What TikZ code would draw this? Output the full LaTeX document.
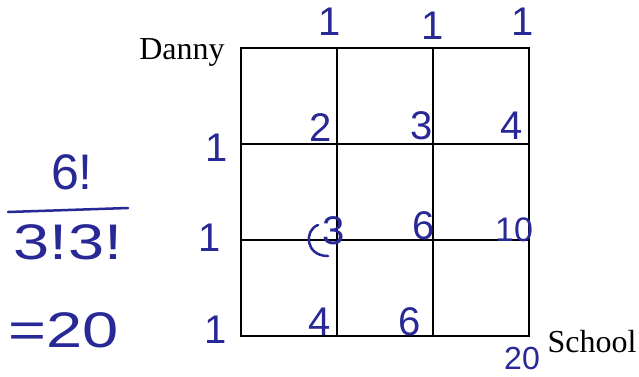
\documentclass[tikz,border=0pt]{standalone}
\usepackage{fontspec}
\setmainfont{Liberation Serif}
\newfontfamily\handfont{Liberation Sans}
\definecolor{ink}{RGB}{40,40,150}
\begin{document}
\begin{tikzpicture}[x=1pt,y=-1pt,
  hand/.style={text=ink,font=\handfont\fontsize{40}{40}\selectfont,inner sep=0pt},
  bighand/.style={text=ink,font=\handfont\fontsize{50}{50}\selectfont,inner sep=0pt},
  lbl/.style={font=\fontsize{32}{32}\selectfont,inner sep=0pt},
  gridline/.style={line width=2pt,black},
  inkline/.style={ink,line width=2.5pt,line cap=round}]
\useasboundingbox (0,0) rectangle (639,376);
% grid
\coordinate (g00) at (241,48);
\coordinate (g33) at (529,336);
\draw[gridline] (g00) rectangle (g33);
\foreach \x in {337,433} \draw[gridline] (\x,48) -- (\x,336);
\foreach \y in {144,240} \draw[gridline] (241,\y) -- (529,\y);
% labels
\node[lbl] (danny) at (182,52) {Danny};
\node[lbl] (school) at (592,342) {School};
% top ones
\node[hand] (t1) at (330,22) {1};
\node[hand] (t2) at (433,26) {1};
\node[hand] (t3) at (523,22) {1};
% left ones
\node[hand] (l1) at (217,148) {1};
\node[hand] (l2) at (210,238) {1};
\node[hand] (l3) at (216,330) {1};
% grid numbers
\node[hand] (n2) at (321,128) {2};
\node[hand] (n3) at (422,126) {3};
\node[hand] (n4) at (512,126) {4};
\node[hand] (m3) at (334,231) {3};
\draw[inkline] (318,225) .. controls (304,230) and (305,256) .. (328,256);
\node[hand] (m6) at (424,226) {6};
\node[hand,font=\handfont\fontsize{34}{34}\selectfont] (m10) at (514,230) {10};
\node[hand] (b4) at (320,322) {4};
\node[hand] (b6) at (410,322) {6};
\node[hand,font=\handfont\fontsize{32}{32}\selectfont] (n20) at (522,358) {20};
% fraction
\node[bighand] (f6) at (72,172) {6!};
\coordinate (fa) at (8,212);
\coordinate (fb) at (128,208);
\draw[inkline] (fa) -- (fb);
\node[bighand,xscale=1.3] (f33) at (68,242) {3!3!};
\node[bighand,xscale=1.3] (f20) at (64,330) {=20};
\end{tikzpicture}
\end{document}
